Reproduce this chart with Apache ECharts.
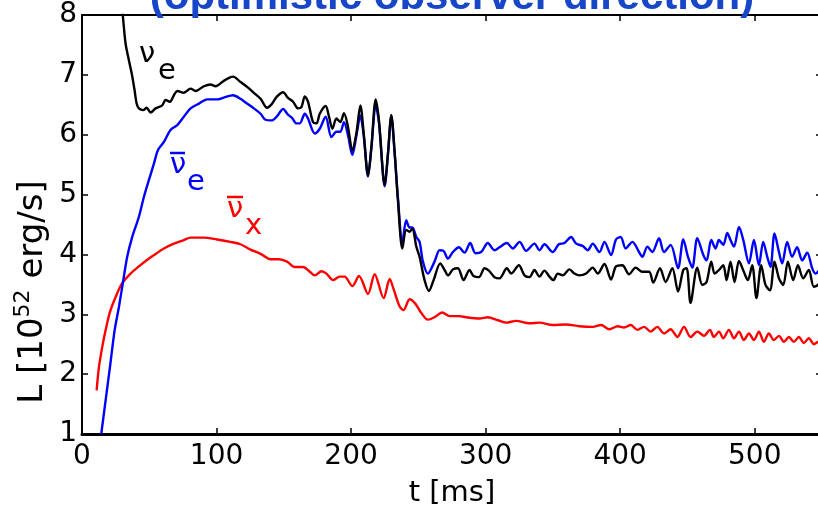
<!DOCTYPE html>
<html>
<head>
<meta charset="utf-8">
<script src="https://cdn.jsdelivr.net/npm/echarts@6/dist/echarts.min.js"></script>
<style>
html,body{margin:0;padding:0;background:#fff;}
#chart{width:818px;height:507px;}
</style>
</head>
<body>
<div id="chart"></div>
<script>
// ---- data ----
var xTicks = [0, 100, 200, 300, 400, 500];
var yTicks = [1, 2, 3, 4, 5, 6, 7, 8];

var tNuE = [29,30.5,32.4,34.9,37.4,39.1,40.6,42.3,45.5,48,51,54.7,59.6,62.1,65.3,68.3,70.8,75.7,80.7,84.4,90.6,95.5,99.3,105.4,112.3,117.8,122.7,127.7,132.7,137.6,141.3,145,149.5,152.9,156.9,160.6,163.1,165.6,168,171.7,174.3,176.7,181.1,183.6,186.1,189.1,192,194.7,197.7,200.9,203.9,206.9,209.4,212.6,215.1,218.3,220.7,225,227.4,229.9,232.4,234.8,238.1,241,243.5,245.5,248.5,250.9,254.6,257.8,261.3,266.3,269.5,272,275.7,279.4,283.6,288,291,295,299.2,302.4,306.6,310.3,315.8,319,324.7,328.9,332.6,336.3,340,343.7,347.4,350.4,353.6,357.3,362.3,366,369.7,374.7,379.6,383.3,388.3,393.2,396.9,401.6,406.6,411.5,416.5,421.5,424.6,429.6,433.8,438.8,443,446.9,449.4,452.3,457.3,461,464.2,467.7,470.2,473.4,476.6,479.1,482,485,488.3,491.9,494.9,498.1,501.3,504.8,508,511.3,514.7,518,521.2,524.6,528.6,532.1,536,540.2,543.9,547,550];
var lNuE = [8.3,7.95,7.52,7.24,6.97,6.74,6.52,6.44,6.41,6.45,6.37,6.44,6.49,6.58,6.55,6.66,6.73,6.70,6.77,6.73,6.81,6.84,6.81,6.90,6.97,6.88,6.80,6.70,6.60,6.45,6.52,6.64,6.71,6.62,6.55,6.44,6.46,6.64,6.55,6.21,6.19,6.35,6.48,6.30,6.10,6.27,6.21,6.36,6.13,5.74,6.02,6.49,6.02,5.32,5.80,6.59,6.24,5.16,5.69,6.33,5.69,4.91,4.10,4.41,4.38,4.43,4.13,3.96,3.57,3.39,3.57,3.85,3.74,3.65,3.75,3.77,3.57,3.74,3.64,3.62,3.77,3.73,3.62,3.60,3.77,3.68,3.82,3.65,3.62,3.74,3.63,3.73,3.63,3.57,3.68,3.65,3.75,3.68,3.65,3.68,3.78,3.68,3.84,3.58,3.80,3.82,3.67,3.78,3.71,3.71,3.53,3.77,3.54,3.77,3.38,3.74,3.77,3.19,3.78,3.49,3.54,3.88,3.68,3.74,3.82,3.57,3.88,3.54,3.89,3.71,3.57,3.82,3.27,3.82,3.49,3.40,3.88,3.60,3.49,3.88,3.57,3.82,3.60,3.74,3.46,3.49,3.6];

var tAntiNuE = [14.3,17.6,20.8,24.3,27.5,30.7,33.6,37.3,42.3,46,49.7,53.5,56.4,60.9,65.8,70.8,75.7,80.7,86.9,93,100.4,105.4,112.3,117.8,122.7,127.7,132.7,136.4,141.3,145,149.5,152.9,156.1,159.4,161.9,165.6,168,173,176.7,181.1,185.4,189.1,192,194.7,197.7,200.9,203.9,206.9,209.4,212.6,215.1,218.3,220.7,225,227.4,229.9,232.4,234.8,238.1,241,243.5,245.5,248.5,250.9,253.4,257.1,262,265.8,268.7,272,275.7,280.1,284.3,288.5,292.5,296.7,301.6,306.6,310.3,315.8,320.2,325.2,330.1,336.3,340,343.7,349.9,354.4,358.6,363.5,367.3,372.2,375.9,379.6,384.6,388.3,393.2,396.9,400.4,404.1,409.1,414,416.5,420.2,423.9,428.9,432.6,437.5,443,446.9,450.4,453.6,457.3,461.8,464.2,467.7,470.9,473.4,476.6,479.6,482,484.6,488.3,491.5,495.7,499.4,503.1,506.3,509.3,511.7,514.7,518,520.4,524.1,527.8,531.5,535.3,539,542.7,545.1,547,550];
var lAntiNuE = [1.0,1.57,2.12,2.74,3.13,3.57,3.96,4.29,4.63,4.96,5.24,5.52,5.74,5.88,6.08,6.16,6.30,6.44,6.52,6.59,6.59,6.62,6.66,6.60,6.52,6.44,6.35,6.25,6.24,6.31,6.43,6.34,6.28,6.19,6.19,6.35,6.27,6.02,6.10,6.30,5.96,6.05,6.05,6.21,5.99,5.66,5.98,6.32,5.98,5.30,5.78,6.50,6.20,5.14,5.67,6.30,5.69,4.95,4.20,4.57,4.45,4.45,4.29,4.21,3.88,3.68,3.88,4.07,4.06,3.93,4.04,4.12,4.03,4.19,4.02,4.04,4.19,4.07,4.12,4.19,4.10,4.21,4.06,4.18,4.07,4.17,4.04,4.17,4.19,4.29,4.18,4.14,4.07,4.18,4.04,4.21,3.99,4.25,4.29,4.10,4.21,4.04,3.96,4.13,4.04,4.27,4.04,4.16,3.77,4.25,3.96,3.78,4.27,3.99,3.90,4.24,4.10,4.24,4.16,4.36,4.24,4.13,4.46,4.24,3.85,4.24,3.82,4.21,3.96,3.79,4.35,4.04,3.85,4.21,3.96,4.12,3.90,4.03,3.77,3.68,3.71,3.8];

var tAntiNuX = [10.9,12.6,15.1,17.6,20.8,25,29.9,36.1,42.3,47.3,53.5,60.9,68.3,75.7,80.7,90.6,100.4,110.4,117.8,125.2,132.7,140.1,146.3,152.4,158.1,164.3,169.3,173,178,181.7,186.6,191.5,195.2,200.9,205.9,212.6,217.5,224.2,228.7,231.6,236.1,239,243.5,248,252.2,257.1,262,267.8,273.2,280.6,285.6,295.5,301.6,309.1,315.3,322.7,332.6,340,349.9,359.8,369.7,379.6,385.8,392,398.2,402.9,407.9,412.8,417.8,422.6,427.6,432.6,437.5,442.5,447.4,452.3,457.3,462.3,466.7,469.7,473.4,476.6,480.8,484.6,488.3,491.9,495.7,499.4,503.1,506.8,510.5,514.2,518,521.7,525.4,529.1,532.8,536.5,540.2,544,547,550];
var lAntiNuX = [1.73,2.12,2.46,2.74,3.04,3.29,3.52,3.68,3.80,3.89,3.99,4.10,4.18,4.24,4.28,4.28,4.25,4.21,4.17,4.08,4.01,3.92,3.92,3.88,3.79,3.79,3.71,3.65,3.72,3.68,3.57,3.63,3.63,3.47,3.64,3.34,3.67,3.27,3.59,3.42,3.13,3.07,3.25,3.17,3.02,2.91,2.95,3.03,2.97,2.97,2.95,2.93,2.95,2.90,2.86,2.89,2.85,2.86,2.82,2.83,2.80,2.79,2.82,2.75,2.80,2.78,2.82,2.74,2.79,2.71,2.79,2.68,2.75,2.62,2.79,2.62,2.71,2.64,2.74,2.62,2.71,2.60,2.74,2.60,2.71,2.57,2.68,2.57,2.71,2.54,2.68,2.57,2.64,2.54,2.62,2.54,2.62,2.52,2.60,2.50,2.54,2.55];

function zip(t, l) { return t.map(function (v, i) { return [v, l[i]]; }); }

var FONT = 'DejaVu Sans';
var chart = echarts.init(document.getElementById('chart'), null, {renderer: 'canvas'});

var axisLineStyle = {color: '#000', width: 2};
var tickStyle = {color: '#000', width: 1.5};
var LW = 2.4;

chart.setOption({
  animation: false,
  backgroundColor: '#fff',
  grid: {left: 82, top: 15, width: 740, height: 419, containLabel: false, outerBoundsMode: 'none'},
  xAxis: [{
    type: 'value', min: 0, max: 550, interval: 100, position: 'bottom',
    name: 't [ms]', nameLocation: 'middle', nameGap: 45,
    nameTextStyle: {fontFamily: FONT, fontSize: 29, color: '#000'},
    axisLine: {show: true, onZero: false, lineStyle: {color: '#000', width: 3}},
    axisTick: {show: true, inside: true, length: 6, lineStyle: tickStyle},
    axisLabel: {fontFamily: FONT, fontSize: 28, color: '#000', margin: 9, showMaxLabel: false,
      formatter: function (v) { return xTicks.indexOf(v) >= 0 ? String(v) : ''; }},
    splitLine: {show: false}
  }, {
    type: 'value', min: 0, max: 550, interval: 100, position: 'top',
    axisLine: {show: true, onZero: false, lineStyle: axisLineStyle},
    axisTick: {show: true, inside: true, length: 6, lineStyle: tickStyle},
    axisLabel: {show: false}, splitLine: {show: false}
  }],
  yAxis: [{
    type: 'value', min: 1, max: 8, interval: 1, position: 'left',
    axisLine: {show: true, onZero: false, lineStyle: axisLineStyle},
    axisTick: {show: true, inside: true, length: 6, lineStyle: tickStyle},
    axisLabel: {fontFamily: FONT, fontSize: 28, color: '#000', margin: 5,
      formatter: function (v) { return yTicks.indexOf(v) >= 0 ? String(v) : ''; }},
    splitLine: {show: false}
  }, {
    type: 'value', min: 1, max: 8, interval: 1, position: 'right',
    axisLine: {show: true, onZero: false, lineStyle: axisLineStyle},
    axisTick: {show: true, inside: true, length: 6, lineStyle: tickStyle},
    axisLabel: {show: false}, splitLine: {show: false}
  }],
  series: [{
    name: 'anti-nu_x', type: 'line', data: zip(tAntiNuX, lAntiNuX),
    showSymbol: false, smooth: 0.3, clip: true,
    lineStyle: {color: '#ff0000', width: LW}, itemStyle: {color: '#ff0000'}
  }, {
    name: 'anti-nu_e', type: 'line', data: zip(tAntiNuE, lAntiNuE),
    showSymbol: false, smooth: 0.3, clip: true,
    lineStyle: {color: '#0000ff', width: LW}, itemStyle: {color: '#0000ff'}
  }, {
    name: 'nu_e', type: 'line', data: zip(tNuE, lNuE),
    showSymbol: false, smooth: 0.3, clip: true,
    lineStyle: {color: '#000000', width: LW}, itemStyle: {color: '#000000'}
  }],
  graphic: [
    {type: 'text', x: 452, y: -3, z: 10,
      style: {text: '(optimistic observer direction)', fill: '#1746c8',
        font: 'bold 42px "Liberation Sans", Arial, sans-serif', align: 'center', verticalAlign: 'middle'}},
    {type: 'text', x: 33, y: 292, rotation: Math.PI / 2, z: 10,
      style: {text: 'L [10{sup|52} erg/s]', fill: '#000', fontFamily: FONT, fontSize: 34,
        lineHeight: 41, align: 'center', verticalAlign: 'middle',
        rich: {sup: {fontFamily: FONT, fontSize: 22, lineHeight: 18, verticalAlign: 'top', fill: '#000'}}}},
    // curve labels
    {type: 'text', x: 139, y: 54, z: 10, style: {text: 'ν', fill: '#000', fontFamily: FONT, fontSize: 29, verticalAlign: 'middle'}},
    {type: 'text', x: 158, y: 71, z: 10, style: {text: 'e', fill: '#000', fontFamily: FONT, fontSize: 29, verticalAlign: 'middle'}},
    {type: 'text', x: 170, y: 165, z: 10, style: {text: 'ν', fill: '#0000ff', fontFamily: FONT, fontSize: 29, verticalAlign: 'middle'}},
    {type: 'line', z: 10, shape: {x1: 170, y1: 153, x2: 185, y2: 153}, style: {stroke: '#0000ff', lineWidth: 2.5}},
    {type: 'text', x: 187, y: 182, z: 10, style: {text: 'e', fill: '#0000ff', fontFamily: FONT, fontSize: 29, verticalAlign: 'middle'}},
    {type: 'text', x: 227, y: 209, z: 10, style: {text: 'ν', fill: '#ff0000', fontFamily: FONT, fontSize: 29, verticalAlign: 'middle'}},
    {type: 'line', z: 10, shape: {x1: 227, y1: 197, x2: 243, y2: 197}, style: {stroke: '#ff0000', lineWidth: 2.5}},
    {type: 'text', x: 245, y: 226, z: 10, style: {text: 'x', fill: '#ff0000', fontFamily: FONT, fontSize: 29, verticalAlign: 'middle'}}
  ]
});
</script>
</body>
</html>
